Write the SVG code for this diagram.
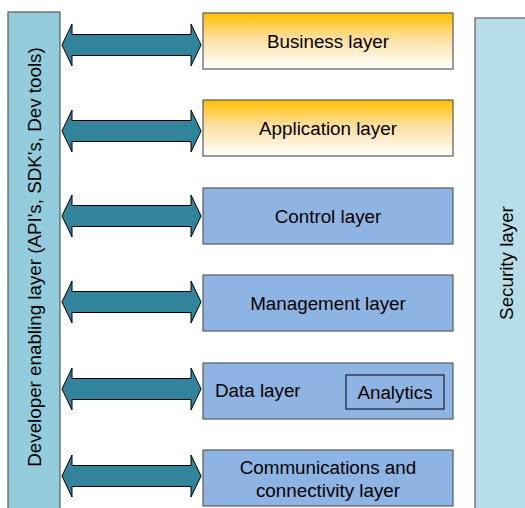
<svg xmlns="http://www.w3.org/2000/svg" width="525" height="508" viewBox="0 0 525 508">
<style>
text{font-family:"Liberation Sans",Arial,sans-serif;font-size:18.8px;fill:#000;dominant-baseline:central}
.box{stroke:#5a5a5a;stroke-width:1.2}
.blue{fill:#8EB4E3}
.gold{fill:url(#g)}
.arrow{fill:#31849B;stroke:#000;stroke-width:1}
</style>
<defs>
<linearGradient id="g" x1="0" y1="0" x2="0" y2="1">
<stop offset="0" stop-color="#FFC000"/>
<stop offset="0.45" stop-color="#FFDFA0"/>
<stop offset="1" stop-color="#FFFFFF"/>
</linearGradient>
<path id="arr" d="M0,0 L10,-21 L10,-10.5 L129,-10.5 L129,-21 L139,0 L129,21 L129,10.5 L10,10.5 L10,21 Z"/>
</defs>
<g id="developer">
<rect x="8" y="12" width="52" height="500" fill="#93CDDD" stroke="#5a5a5a" stroke-width="1.2"/>
<text transform="translate(34,257) rotate(-90)" text-anchor="middle">Developer enabling layer (API's, SDK's, Dev tools)</text>
</g>
<g id="security">
<rect x="475" y="18" width="55" height="500" fill="#B7DEE8" stroke="#5a5a5a" stroke-width="1.2"/>
<text transform="translate(506,263) rotate(-90)" text-anchor="middle">Security layer</text>
</g>
<g id="connectors">
<use href="#arr" class="arrow" x="62" y="45"/>
<use href="#arr" class="arrow" x="62" y="131"/>
<use href="#arr" class="arrow" x="62" y="216"/>
<use href="#arr" class="arrow" x="62" y="302"/>
<use href="#arr" class="arrow" x="62" y="389"/>
<use href="#arr" class="arrow" x="62" y="476"/>
</g>
<g id="business">
<rect class="box gold" x="203" y="13" width="250" height="56"/>
<text x="328" y="41" text-anchor="middle">Business layer</text>
</g>
<g id="application">
<rect class="box gold" x="203" y="100" width="250" height="56"/>
<text x="328" y="128" text-anchor="middle">Application layer</text>
</g>
<g id="control">
<rect class="box blue" x="203" y="188" width="250" height="56"/>
<text x="328" y="216" text-anchor="middle">Control layer</text>
</g>
<g id="management">
<rect class="box blue" x="203" y="275" width="250" height="56"/>
<text x="328" y="303" text-anchor="middle">Management layer</text>
</g>
<g id="data">
<rect class="box blue" x="203" y="363" width="250" height="56"/>
<text x="215" y="390">Data layer</text>
</g>
<g id="analytics">
<rect x="346" y="375" width="98" height="34" fill="none" stroke="#000" stroke-width="1"/>
<text x="395" y="392" text-anchor="middle">Analytics</text>
</g>
<g id="communications">
<rect class="box blue" x="203" y="450" width="250" height="56"/>
<text x="328" y="467" text-anchor="middle">Communications and</text>
<text x="328" y="490" text-anchor="middle">connectivity layer</text>
</g>
</svg>
